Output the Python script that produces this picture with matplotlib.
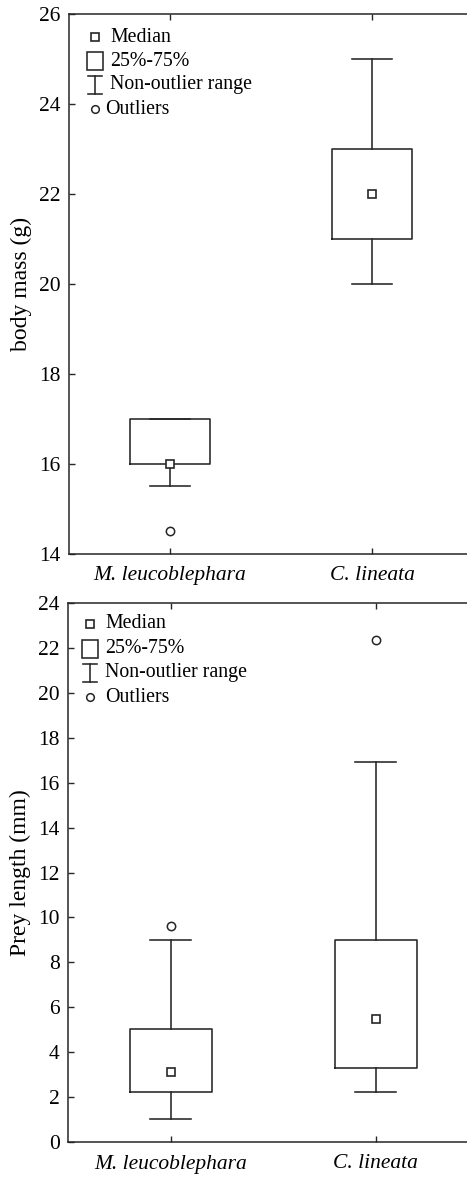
import matplotlib
matplotlib.use("Agg")
import matplotlib.pyplot as plt
from matplotlib.patches import Rectangle

plt.rcParams['font.family'] = ['Liberation Serif', 'DejaVu Serif']

W, H = 467, 1177

species = ['M. leucoblephara', 'C. lineata']

# body mass (g)
mass_q1 = [16.0, 21.0]
mass_med = [16.0, 22.0]
mass_q3 = [17.0, 23.0]
mass_lo = [15.5, 20.0]
mass_hi = [17.0, 25.0]
mass_out = [[14.5], []]

# prey length (mm)
prey_q1 = [2.22, 3.28]
prey_med = [3.1, 5.48]
prey_q3 = [5.05, 9.0]
prey_lo = [1.02, 2.22]
prey_hi = [8.98, 16.9]
prey_out = [[9.6], [22.35]]

col = '#262626'
lw = 1.15


def px(x, y):
    # figure pixel (from top-left) to figure fraction
    return x / W, 1 - y / H


def draw_panel(ax, q1, med, q3, lo, hi, out, ylabel, ylim, yticks):
    stats = []
    for i in range(len(species)):
        stats.append(dict(q1=q1[i], med=med[i], q3=q3[i], whislo=lo[i],
                          whishi=hi[i], fliers=out[i], label=species[i]))
    ax.bxp(stats, positions=[0, 1], widths=0.4, capwidths=0.2,
           boxprops=dict(color=col, lw=lw),
           whiskerprops=dict(color=col, lw=lw),
           capprops=dict(color=col, lw=lw),
           medianprops=dict(lw=0),
           flierprops=dict(marker='o', ms=6, mfc='white', mec=col, mew=1.1))
    ax.plot([0, 1], med, ls='none', marker='s', ms=6, mfc='white', mec=col,
            mew=1.2, zorder=5)
    ax.set_xlim(-0.5, 1.5)
    ax.set_ylim(*ylim)
    ax.set_yticks(yticks)
    ax.set_xticks([0, 1])
    ax.set_xticklabels(species, fontstyle='italic', fontsize=16.5)
    ax.tick_params(axis='both', direction='in', length=4, width=1, color=col,
                   labelsize=15.5, top=True, right=True)
    ax.tick_params(axis='x', pad=9)
    ax.tick_params(axis='y', pad=6)
    for s in ax.spines.values():
        s.set_color(col)
        s.set_linewidth(1.1)
    ax.set_ylabel(ylabel, fontsize=17, labelpad=5)


def draw_legend(fig, x0, ys, box_w, box_h, out_dx, fs=14.3):
    # ys: y pixel centres of the four legend rows
    tr = fig.transFigure
    # median
    fig.lines.append(plt.Line2D(*zip(px(x0, ys[0])), transform=tr, ls='none',
                                marker='s', ms=5.5, mfc='white', mec=col, mew=1.2))
    fig.text(*px(x0 + 15, ys[0]), 'Median', fontsize=fs, va='center', ha='left')
    # box
    bx, by = px(x0 - box_w / 2, ys[1] + box_h / 2)
    fig.patches.append(Rectangle((bx, by), box_w / W, box_h / H, transform=tr,
                                 fill=False, ec=col, lw=lw))
    fig.text(*px(x0 + 15, ys[1]), '25%-75%', fontsize=fs, va='center', ha='left')
    # non-outlier range
    cx = x0
    x_l, y_t = px(cx - 7, ys[2] - 9)
    x_r, y_b = px(cx + 7, ys[2] + 9)
    xc, _ = px(cx, 0)
    fig.lines.append(plt.Line2D([x_l, x_r], [y_t, y_t], transform=tr, color=col, lw=lw))
    fig.lines.append(plt.Line2D([x_l, x_r], [y_b, y_b], transform=tr, color=col, lw=lw))
    fig.lines.append(plt.Line2D([xc, xc], [y_t, y_b], transform=tr, color=col, lw=lw))
    fig.text(*px(x0 + 15, ys[2]), 'Non-outlier range', fontsize=fs, va='center', ha='left')
    # outliers
    fig.lines.append(plt.Line2D(*zip(px(x0, ys[3])), transform=tr, ls='none',
                                marker='o', ms=5.5, mfc='white', mec=col, mew=1.1))
    fig.text(*px(x0 + out_dx, ys[3]), 'Outliers', fontsize=fs, va='center', ha='left')


fig = plt.figure(figsize=(W / 100, H / 100), dpi=100)

ax1 = fig.add_axes([69 / W, 1 - 554 / H, 404 / W, 540 / H])
draw_panel(ax1, mass_q1, mass_med, mass_q3, mass_lo, mass_hi, mass_out,
           'body mass (g)', (14, 26), [14, 16, 18, 20, 22, 24, 26])
draw_legend(fig, 95, [37, 61, 85, 109], 16, 18, 10)

ax2 = fig.add_axes([68 / W, 1 - 1142 / H, 410 / W, 539 / H])
draw_panel(ax2, prey_q1, prey_med, prey_q3, prey_lo, prey_hi, prey_out,
           'Prey length (mm)', (0, 24), list(range(0, 25, 2)))
draw_legend(fig, 90, [624, 649, 673, 697], 16, 18, 15)

fig.savefig('out.png', dpi=100)
